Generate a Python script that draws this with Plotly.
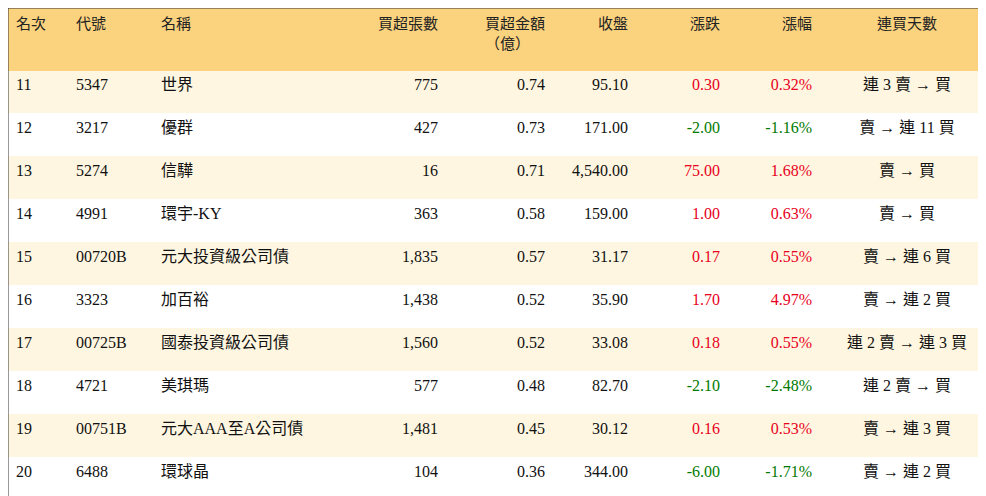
import plotly.graph_objects as go

rank = [11, 12, 13, 14, 15, 16, 17, 18, 19, 20]
code = ["5347", "3217", "5274", "4991", "00720B", "3323", "00725B", "4721", "00751B", "6488"]
name = ["世界", "優群", "信驊", "環宇-KY", "元大投資級公司債", "加百裕", "國泰投資級公司債", "美琪瑪", "元大AAA至A公司債", "環球晶"]
lots = ["775", "427", "16", "363", "1,835", "1,438", "1,560", "577", "1,481", "104"]
amount = ["0.74", "0.73", "0.71", "0.58", "0.57", "0.52", "0.52", "0.48", "0.45", "0.36"]
close = ["95.10", "171.00", "4,540.00", "159.00", "31.17", "35.90", "33.08", "82.70", "30.12", "344.00"]
change = [0.30, -2.00, 75.00, 1.00, 0.17, 1.70, 0.18, -2.10, 0.16, -6.00]
pct = [0.32, -1.16, 1.68, 0.63, 0.55, 4.97, 0.55, -2.48, 0.53, -1.71]
streak = ["連 3 賣 → 買", "賣 → 連 11 買", "賣 → 買", "賣 → 買", "賣 → 連 6 買",
          "賣 → 連 2 買", "連 2 賣 → 連 3 買", "連 2 賣 → 買", "賣 → 連 3 買", "賣 → 連 2 買"]

headers = ["<br>名次", "<br>代號", "<br>名稱", "<br>買超張數", "買超金額<br>（億）",
           "<br>收盤", "<br>漲跌", "<br>漲幅", "<br>連買天數"]

clr = ["#e8001c" if v > 0 else "#007a00" for v in change]
black = ["#111"] * len(rank)
fill = ["#fef6e0" if i % 2 == 0 else "white" for i in range(len(rank))]
align = ["left", "left", "left", "right", "right", "right", "right", "right", "center"]

fig = go.Figure(go.Table(
    columnwidth=[60, 85, 190, 103, 107, 83, 92, 92, 174],
    header=dict(
        values=headers,
        fill_color="#fbd27e",
        line_color="#fbd27e",
        align=align,
        font=dict(family="Liberation Serif, Noto Sans CJK TC", size=15, color="#222"),
        height=62,
    ),
    cells=dict(
        values=[rank, code, name, lots, amount, close,
                [f"{v:.2f}" for v in change], [f"{v:.2f}%" for v in pct], streak],
        fill_color=[fill] * 9,
        line_color=[fill] * 9,
        align=align,
        font=dict(family="Liberation Serif, Noto Sans CJK TC", size=16,
                  color=[black, black, black, black, black, black, clr, clr, black]),
        height=43,
    ),
))
fig.add_shape(type="rect", xref="paper", yref="paper", x0=0, x1=1, y0=0, y1=1,
              line=dict(color="#333", width=1))
fig.update_layout(width=986, height=496, margin=dict(l=0, r=0, t=0, b=0),
                  paper_bgcolor="white")
fig.write_html("out.html")
